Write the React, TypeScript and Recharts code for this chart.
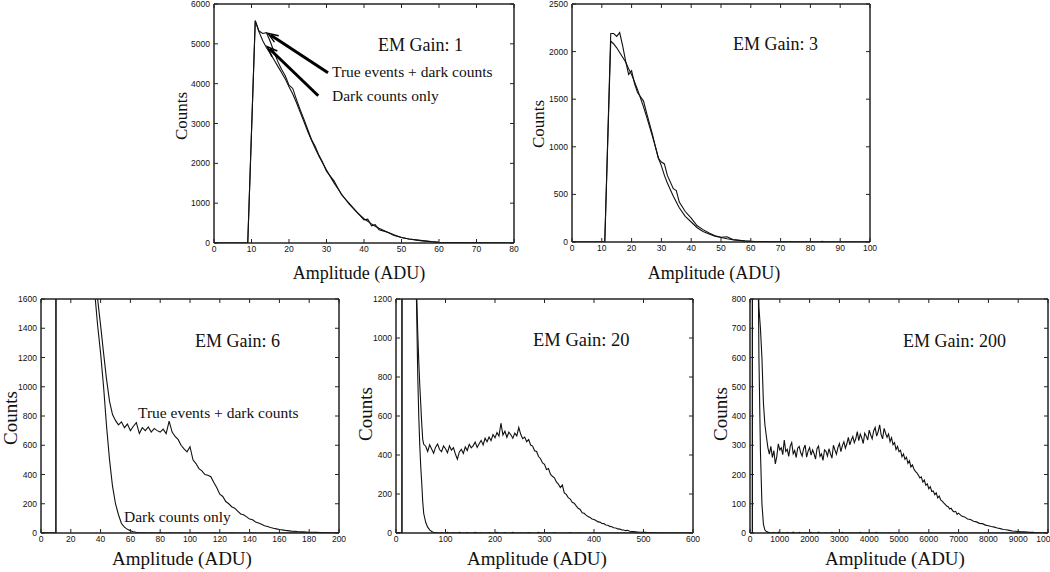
import React from "react";
import { LineChart, Line, XAxis, YAxis, ReferenceLine, ReferenceArea } from "recharts";

const SERIF = '"Liberation Serif", "Times New Roman", serif';
const SANS = '"Liberation Sans", Arial, sans-serif';

// ---- EM gain 1 ----
const g1X = [0, 9, 11, 12, 13, 14, 15, 16, 17, 18, 19, 20, 21, 22, 23, 24, 25, 26, 27, 28, 29, 30, 32, 34, 36, 38, 40, 41, 42, 43, 44, 46, 48, 50, 52, 55, 58, 60, 65, 70, 75, 80];
const g1True = [0, 0, 5580, 5320, 5260, 5280, 5060, 4800, 4560, 4360, 4200, 3960, 3880, 3600, 3340, 3100, 2850, 2600, 2420, 2200, 2020, 1800, 1560, 1210, 1000, 790, 580, 600, 430, 460, 330, 280, 190, 140, 100, 65, 35, 20, 10, 5, 2, 0];
const g1Dark = [0, 0, 5580, 5300, 5080, 4900, 4760, 4600, 4440, 4280, 4120, 3920, 3740, 3520, 3280, 3040, 2800, 2580, 2370, 2180, 2000, 1830, 1510, 1230, 980, 780, 610, 545, 480, 420, 370, 280, 205, 140, 100, 60, 32, 18, 8, 3, 1, 0];
const g1XTicks = [0, 10, 20, 30, 40, 50, 60, 70, 80];
const g1YTicks = [0, 1000, 2000, 3000, 4000, 5000, 6000];
const g1ArrowTrue = [{ x: 30.4, y: 4275 }, { x: 14.4, y: 5264 }];
const g1ArrowDark = [{ x: 27.8, y: 3697 }, { x: 14.2, y: 4929 }];

// ---- EM gain 3 ----
const g3X = [0, 11, 13, 14, 15, 16, 17, 18, 19, 20, 21, 22, 24, 25, 27, 28, 29, 30, 31, 32, 34, 35, 36, 38, 40, 42, 44, 46, 48, 50, 52, 54, 56, 58, 60, 63, 66, 70, 73, 80, 83, 84, 85, 90, 100];
const g3True = [0, 0, 2190, 2190, 2160, 2200, 2060, 1900, 1760, 1800, 1660, 1570, 1480, 1360, 1130, 1000, 880, 840, 820, 700, 560, 540, 420, 320, 250, 170, 130, 95, 65, 50, 55, 25, 18, 12, 8, 5, 3, 3, 1, 0, 0, 8, 0, 0, 0];
const g3Dark = [0, 0, 2110, 2080, 2040, 1990, 1940, 1890, 1820, 1760, 1680, 1600, 1420, 1320, 1110, 1000, 880, 800, 700, 620, 480, 420, 360, 270, 210, 150, 110, 85, 62, 48, 35, 24, 17, 10, 7, 3, 2, 0, 0, 0, 0, 0, 0, 0, 0];
const g3XTicks = [0, 10, 20, 30, 40, 50, 60, 70, 80, 90, 100];
const g3YTicks = [0, 500, 1000, 1500, 2000, 2500];

// ---- EM gain 6 ----
const g6X = [0, 10, 11, 12, 20, 30,
  34, 36, 38, 40, 42, 44, 46, 48, 50, 52, 54, 56, 58, 60, 62, 64, 66, 68, 70, 72, 74, 76, 78, 80,
  82, 84, 86, 88, 90, 92, 94, 96, 98, 100, 102, 104, 106, 108, 110, 112, 114, 116, 118, 120,
  122, 124, 126, 128, 130, 132, 134, 136, 138, 140, 142, 144, 146, 148, 150, 152, 154, 156, 158, 160,
  164, 168, 172, 176, 180, 185, 190, 195, 200];
const g6True = [0, 0, 40000, 38000, 14000, 4000,
  2300, 1850, 1600, 1420, 1230, 1050, 900, 810, 770, 740, 760, 720, 745, 700, 730, 755, 680, 720, 700, 725, 690, 715, 700, 690,
  710, 680, 765, 690, 660, 640, 600, 575, 555, 590, 500, 475, 440, 425, 400, 395, 385, 345, 310, 265,
  250, 215, 200, 180, 170, 150, 130, 125, 110, 95, 90, 75, 68, 60, 50, 45, 38, 32, 28, 24,
  18, 13, 10, 8, 5, 4, 2, 1, 0];
const g6Dark = [0, 0, 40000, 38000, 12000, 3500,
  2050, 1650, 1420, 1230, 1000, 730, 500, 320, 200, 125, 65, 40, 25, 15, 9, 5, 3, 2, 1, 0, 2, 0, 0, 3,
  0, 0, 1, 0, 0, 0, 2, 0, 0, 0, 0, 0, 1, 0, 0, 0, 0, 2, 0, 0,
  0, 0, 0, 1, 0, 0, 0, 0, 0, 0, 1, 0, 0, 0, 0, 0, 0, 0, 0, 0,
  0, 0, 0, 0, 0, 0, 0, 0, 0];
const g6XTicks = [0, 20, 40, 60, 80, 100, 120, 140, 160, 180, 200];
const g6YTicks = [0, 200, 400, 600, 800, 1000, 1200, 1400, 1600];

// ---- EM gain 20 ----
const g20X = [0, 12, 14, 16, 30, 40, 42, 44, 46, 48, 50, 52, 54, 56,
  60, 64, 68, 72, 76, 80, 84, 88, 92, 96,
  100, 104, 108, 112, 116, 120, 124, 128, 132, 136,
  140, 144, 148, 152, 156, 160, 164, 168, 172, 176,
  180, 184, 188, 192, 196, 200, 204, 208, 212, 216,
  220, 224, 228, 232, 236, 240, 244, 248, 252, 256,
  260, 264, 268, 272, 276, 280, 284, 288, 292, 296,
  300, 304, 308, 312, 316, 320, 324, 328, 332, 336,
  340, 344, 348, 352, 356, 360, 364, 368, 372, 376,
  380, 384, 388, 392, 396, 400, 404, 408, 412, 416,
  420, 424, 428, 432, 436, 440, 444, 448, 452, 456,
  460, 464, 468, 472, 476, 480, 484, 488, 492, 496,
  500, 504, 508, 512, 516, 520, 540, 560, 580, 600];
const g20True = [0, 0, 40000, 38000, 6000, 1450, 1200, 1020, 880, 760, 660, 560, 480, 455,
  445, 418, 452, 431, 409, 440, 456, 428, 417, 446,
  432, 412, 447, 425, 438, 405, 378, 416, 429, 408,
  441, 423, 455, 437, 448, 466, 439, 458, 475, 452,
  486, 468, 492, 474, 505, 488, 515, 497, 563, 502,
  522, 491, 517, 504, 486, 512, 498, 541, 506, 484,
  492, 468, 479, 451, 446, 422, 418, 392, 381, 359,
  352, 326, 331, 302, 291, 283, 262, 251, 233, 246,
  206, 198, 181, 174, 157, 153, 139, 127, 121, 104,
  101, 92, 84, 80, 72, 69, 64, 57, 56, 49,
  48, 41, 40, 34, 32, 27, 26, 21, 20, 16,
  15, 12, 14, 9, 8, 7, 6, 5, 4, 4,
  3, 3, 2, 2, 1, 1, 0, 0, 0, 0];
const g20Dark = [0, 0, 40000, 38000, 5500, 1400, 1100, 800, 600, 450, 340, 256, 160, 100,
  55, 30, 16, 8, 4, 2, 1, 0, 2, 0,
  0, 3, 0, 0, 1, 0, 0, 4, 0, 0,
  0, 2, 0, 0, 0, 3, 0, 0, 1, 0,
  0, 0, 2, 0, 0, 0, 4, 0, 0, 0,
  2, 0, 0, 0, 3, 0, 0, 0, 1, 0,
  0, 0, 2, 0, 0, 0, 0, 3, 0, 0,
  0, 1, 0, 0, 0, 2, 0, 0, 0, 0,
  0, 0, 0, 2, 0, 0, 0, 0, 1, 0,
  0, 0, 0, 0, 0, 1, 0, 0, 0, 0,
  0, 0, 0, 0, 0, 0, 0, 0, 0, 0,
  0, 0, 0, 0, 0, 0, 0, 0, 0, 0,
  0, 0, 0, 0, 0, 0, 0, 0, 0, 0];
const g20XTicks = [0, 100, 200, 300, 400, 500, 600];
const g20YTicks = [0, 200, 400, 600, 800, 1000, 1200];

// ---- EM gain 200 ----
const g200X = [0, 80, 100, 200, 250, 300, 350, 400, 450, 500,
  550, 600, 650, 700, 750, 800, 850, 900, 950, 1000,
  1050, 1100, 1150, 1200, 1250, 1300, 1350, 1400, 1450, 1500,
  1550, 1600, 1650, 1700, 1750, 1800, 1850, 1900, 1950, 2000,
  2050, 2100, 2150, 2200, 2250, 2300, 2350, 2400, 2450, 2500,
  2550, 2600, 2650, 2700, 2750, 2800, 2850, 2900, 2950, 3000,
  3050, 3100, 3150, 3200, 3250, 3300, 3350, 3400, 3450, 3500,
  3550, 3600, 3650, 3700, 3750, 3800, 3850, 3900, 3950, 4000,
  4050, 4100, 4150, 4200, 4250, 4300, 4350, 4400, 4450, 4500,
  4550, 4600, 4650, 4700, 4750, 4800, 4850, 4900, 4950, 5000,
  5050, 5100, 5150, 5200, 5250, 5300, 5350, 5400, 5450, 5500,
  5550, 5600, 5650, 5700, 5750, 5800, 5850, 5900, 5950, 6000,
  6050, 6100, 6150, 6200, 6250, 6300, 6350, 6400, 6450, 6500,
  6550, 6600, 6650, 6700, 6750, 6800, 6850, 6900, 6950, 7000,
  7100, 7200, 7300, 7400, 7500, 7600, 7700, 7800, 7900, 8000,
  8100, 8200, 8300, 8400, 8500, 8600, 8700, 8800, 8900, 9000,
  9100, 9200, 9300, 9400, 9500, 9600, 9700, 9800, 9900, 10000];
const g200True = [0, 0, 50000, 30000, 1000, 770, 700, 600, 445, 370,
  330, 292, 270, 296, 258, 282, 236, 262, 305, 284,
  291, 268, 318, 279, 286, 262, 297, 309, 271, 282,
  258, 290, 296, 275, 263, 288, 301, 259, 280, 292,
  266, 284, 271, 253, 289, 297, 262, 270, 248, 284,
  279, 263, 288, 271, 256, 300, 284, 269, 292, 306,
  278, 299, 312, 290, 305, 327, 301, 318, 330, 309,
  322, 347, 316, 338, 325, 306, 341, 332, 318, 352,
  335, 322, 349, 361, 331, 346, 370, 336, 322, 358,
  341, 327, 338, 312, 326, 302, 309, 285, 296, 278,
  283, 261, 270, 252, 259, 238, 247, 226, 233, 219,
  211, 206, 198, 188, 192, 174, 181, 163, 168, 151,
  158, 142, 144, 131, 137, 120, 126, 113, 109, 103,
  98, 92, 90, 82, 85, 76, 72, 74, 64, 68,
  58, 55, 48, 46, 40, 38, 33, 32, 27, 25,
  22, 20, 17, 15, 12, 11, 9, 7, 6, 5,
  4, 4, 3, 2, 2, 1, 1, 0, 0, 0];
const g200Dark = [0, 0, 50000, 30000, 1200, 600, 280, 100, 30, 10,
  5, 3, 2, 1, 0, 2, 0, 0, 3, 0,
  0, 1, 0, 0, 2, 0, 0, 0, 3, 0,
  0, 0, 2, 0, 0, 0, 1, 0, 0, 0,
  2, 0, 0, 0, 0, 3, 0, 0, 0, 0,
  1, 0, 0, 0, 2, 0, 0, 0, 0, 0,
  0, 2, 0, 0, 0, 0, 1, 0, 0, 0,
  0, 0, 0, 2, 0, 0, 0, 0, 0, 1,
  0, 0, 0, 0, 2, 0, 0, 0, 0, 0,
  0, 0, 1, 0, 0, 0, 0, 0, 0, 0,
  0, 0, 0, 0, 0, 0, 0, 0, 0, 0,
  0, 0, 0, 0, 0, 0, 0, 0, 0, 0,
  0, 0, 0, 0, 0, 0, 0, 0, 0, 0,
  0, 0, 0, 0, 0, 0, 0, 0, 0, 0,
  0, 0, 0, 0, 0, 0, 0, 0, 0, 0,
  0, 0, 0, 0, 0, 0, 0, 0, 0, 0,
  0, 0, 0, 0, 0, 0, 0, 0, 0, 0];
const g200XTicks = [0, 1000, 2000, 3000, 4000, 5000, 6000, 7000, 8000, 9000, 10000];
const g200YTicks = [0, 100, 200, 300, 400, 500, 600, 700, 800];

// plot boxes (page pixels)
const BOX1 = { x: 214, y: 4, w: 300, h: 239 };
const BOX3 = { x: 572, y: 4, w: 298, h: 238 };
const BOX6 = { x: 41, y: 299, w: 298, h: 234 };
const BOX20 = { x: 396, y: 299, w: 297, h: 234 };
const BOX200 = { x: 750, y: 299, w: 298, h: 234 };

type Box = { x: number; y: number; w: number; h: number };
type Row = { x: number; t: number; d: number };

const toRows = (xs: number[], t: number[], d: number[]): Row[] =>
  xs.map((x, i) => ({ x, t: t[i], d: d[i] }));

const tickStyle = { fontSize: 8.5, fontFamily: SANS, fill: "#111" };
const AXIS = "#222";
const noLabel = () => <g />;

function Arrow(props: any) {
  const { x1, y1, x2, y2 } = props;
  if (x1 == null || x2 == null) return null;
  const ang = Math.atan2(y2 - y1, x2 - x1);
  const len = 11;
  const a1 = ang + Math.PI - 0.36;
  const a2 = ang + Math.PI + 0.36;
  const pts = `${x2 + len * Math.cos(a1)},${y2 + len * Math.sin(a1)} ${x2},${y2} ${x2 + len * Math.cos(a2)},${y2 + len * Math.sin(a2)}`;
  return (
    <g stroke="#000" fill="none">
      <line x1={x1} y1={y1} x2={x2 - 3 * Math.cos(ang)} y2={y2 - 3 * Math.sin(ang)} strokeWidth={3} />
      <polyline points={pts} strokeWidth={1.4} />
    </g>
  );
}

interface PanelProps {
  box: Box;
  xMax: number;
  xTicks: number[];
  yMax: number;
  yTicks: number[];
  data: Row[];
  children?: React.ReactNode;
}

function Panel({ box, xMax, xTicks, yMax, yTicks, data, children }: PanelProps) {
  return (
    <div style={{ position: "absolute", left: box.x - 40, top: box.y - 8 }}>
      <LineChart
        width={box.w + 52}
        height={box.h + 48}
        data={data}
        margin={{ top: 7, right: 11, bottom: 0, left: 0 }}
      >
        <XAxis
          xAxisId="b"
          dataKey="x"
          type="number"
          domain={[0, xMax]}
          ticks={xTicks}
          interval={0}
          allowDataOverflow
          height={40}
          tickSize={-4}
          tickMargin={7}
          tick={tickStyle}
          stroke={AXIS}
        />
        <XAxis
          xAxisId="t"
          orientation="top"
          dataKey="x"
          type="number"
          domain={[0, xMax]}
          ticks={xTicks}
          interval={0}
          allowDataOverflow
          height={1}
          tickSize={-4}
          tick={noLabel}
          stroke={AXIS}
        />
        <YAxis
          yAxisId="l"
          type="number"
          domain={[0, yMax]}
          ticks={yTicks}
          interval={0}
          allowDataOverflow
          width={40}
          tickSize={-4}
          tickMargin={8}
          tick={tickStyle}
          stroke={AXIS}
        />
        <YAxis
          yAxisId="r"
          orientation="right"
          type="number"
          domain={[0, yMax]}
          ticks={yTicks}
          interval={0}
          allowDataOverflow
          width={1}
          tickSize={-4}
          tick={noLabel}
          stroke={AXIS}
        />
        <ReferenceArea xAxisId="b" yAxisId="l" x1={0} x2={xMax} y1={0} y2={yMax} fill="none" stroke={AXIS} strokeWidth={1} />
        <Line xAxisId="b" yAxisId="l" dataKey="d" stroke="#111" strokeWidth={1.1} dot={false} isAnimationActive={false} />
        <Line xAxisId="b" yAxisId="l" dataKey="t" stroke="#111" strokeWidth={1.1} dot={false} isAnimationActive={false} />
        {children}
      </LineChart>
    </div>
  );
}

function Title({ cx, cy, size, text, vertical }: { cx: number; cy: number; size: number; text: string; vertical?: boolean }) {
  return (
    <div
      style={{
        position: "absolute",
        left: cx,
        top: cy,
        fontFamily: SERIF,
        fontSize: size,
        lineHeight: 1,
        whiteSpace: "nowrap",
        color: "#111",
        transform: `translate(-50%, -50%)${vertical ? " rotate(-90deg)" : ""}`,
      }}
    >
      {text}
    </div>
  );
}

function Note({ x, base, size, text }: { x: number; base: number; size: number; text: string }) {
  return (
    <div
      style={{
        position: "absolute",
        left: x,
        top: base - 0.84 * size,
        fontFamily: SERIF,
        fontSize: size,
        lineHeight: 1,
        whiteSpace: "nowrap",
        color: "#111",
      }}
    >
      {text}
    </div>
  );
}

export default function App() {
  return (
    <div style={{ position: "fixed", left: 0, top: 0, width: 1050, height: 572, overflow: "hidden", background: "#fff" }}>
      <Panel box={BOX1} xMax={80} xTicks={g1XTicks} yMax={6000} yTicks={g1YTicks} data={toRows(g1X, g1True, g1Dark)}>
        <ReferenceLine xAxisId="b" yAxisId="l" segment={g1ArrowTrue} shape={(p: any) => <Arrow {...p} />} />
        <ReferenceLine xAxisId="b" yAxisId="l" segment={g1ArrowDark} shape={(p: any) => <Arrow {...p} />} />
      </Panel>
      <Panel box={BOX3} xMax={100} xTicks={g3XTicks} yMax={2500} yTicks={g3YTicks} data={toRows(g3X, g3True, g3Dark)} />
      <Panel box={BOX6} xMax={200} xTicks={g6XTicks} yMax={1600} yTicks={g6YTicks} data={toRows(g6X, g6True, g6Dark)} />
      <Panel box={BOX20} xMax={600} xTicks={g20XTicks} yMax={1200} yTicks={g20YTicks} data={toRows(g20X, g20True, g20Dark)} />
      <Panel box={BOX200} xMax={10000} xTicks={g200XTicks} yMax={800} yTicks={g200YTicks} data={toRows(g200X, g200True, g200Dark)} />

      <Title cx={181} cy={116} size={17} text="Counts" vertical />
      <Title cx={359} cy={273} size={18} text="Amplitude (ADU)" />
      <Title cx={538} cy={124} size={17} text="Counts" vertical />
      <Title cx={714} cy={273} size={18} text="Amplitude (ADU)" />
      <Title cx={10} cy={418} size={19} text="Counts" vertical />
      <Title cx={182} cy={558} size={19} text="Amplitude (ADU)" />
      <Title cx={365} cy={414} size={19} text="Counts" vertical />
      <Title cx={537} cy={558} size={19} text="Amplitude (ADU)" />
      <Title cx={720} cy={414} size={19} text="Counts" vertical />
      <Title cx={895} cy={558} size={19} text="Amplitude (ADU)" />

      <Note x={378} base={51} size={18} text="EM Gain: 1" />
      <Note x={332} base={77} size={15.5} text="True events + dark counts" />
      <Note x={332} base={101} size={15.5} text="Dark counts only" />
      <Note x={733} base={50} size={18} text="EM Gain: 3" />
      <Note x={195} base={347} size={18} text="EM Gain: 6" />
      <Note x={138} base={418} size={15.5} text="True events + dark counts" />
      <Note x={124} base={522} size={15.5} text="Dark counts only" />
      <Note x={533} base={347} size={18.5} text="EM Gain: 20" />
      <Note x={903} base={347} size={18} text="EM Gain: 200" />
    </div>
  );
}
